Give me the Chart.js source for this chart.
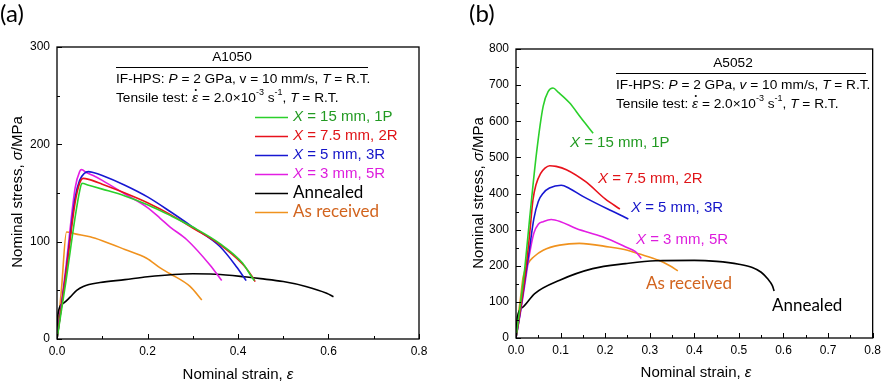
<!DOCTYPE html>
<html><head><meta charset="utf-8">
<script src="https://cdn.jsdelivr.net/npm/chart.js@4.4.1/dist/chart.umd.min.js"></script>
<style>
html,body{margin:0;padding:0;background:#fff;width:886px;height:384px;overflow:hidden}
canvas{position:absolute;top:0}
#ca{left:0}#cb{left:443px}
</style></head>
<body>
<canvas id="ca" width="443" height="384"></canvas>
<canvas id="cb" width="443" height="384"></canvas>
<script>
// ---------- Panel (a): A1050 ----------
const A_green_x = [0, 0.02, 0.04, 0.05, 0.055, 0.07, 0.1, 0.15, 0.2, 0.25, 0.3, 0.36, 0.41, 0.43, 0.436];
const A_green_y = [0, 60, 125, 152, 160, 158, 154, 147, 138, 127, 115, 98, 78, 64, 60];
const A_red_x = [0, 0.02, 0.04, 0.05, 0.058, 0.07, 0.1, 0.15, 0.2, 0.25, 0.3, 0.36, 0.41, 0.43, 0.438];
const A_red_y = [0, 68, 140, 160, 165, 164, 159, 150, 140, 128, 114, 97, 77, 65, 59];
const A_blue_x = [0, 0.02, 0.04, 0.05, 0.06, 0.069, 0.08, 0.1, 0.15, 0.2, 0.25, 0.3, 0.36, 0.397, 0.418];
const A_blue_y = [0, 70, 145, 163, 170, 172, 171, 168, 158, 146, 131, 115, 95, 74, 60];
const A_mag_x = [0, 0.02, 0.04, 0.05, 0.0545, 0.065, 0.08, 0.1, 0.15, 0.2, 0.228, 0.25, 0.287, 0.338, 0.364];
const A_mag_y = [0, 75, 155, 172, 174, 171, 168, 163, 149, 135, 124, 115, 102, 76, 60];
const A_ann_x = [0, 0.002, 0.014, 0.029, 0.0435, 0.058, 0.095, 0.15, 0.2, 0.3, 0.35, 0.412, 0.45, 0.5, 0.55, 0.596, 0.611];
const A_ann_y = [0, 25, 36.7, 43, 50, 54, 58, 61, 64, 67, 66.5, 64, 62, 59, 54, 47, 43.5];
const A_rec_x = [0, 0.01, 0.021, 0.04, 0.073, 0.1, 0.15, 0.198, 0.228, 0.25, 0.294, 0.32];
const A_rec_y = [0, 52, 110, 108, 105, 101, 92, 83, 73, 67, 54, 40];

// ---------- Panel (b): A5052 ----------
const B_green_x = [0, 0.01, 0.02, 0.031, 0.046, 0.061, 0.072, 0.083, 0.095, 0.12, 0.146, 0.173];
const B_green_y = [0, 95, 197, 336, 512, 642, 682, 692, 680, 651, 609, 567];
const B_red_x = [0, 0.01, 0.02, 0.03, 0.038, 0.045, 0.055, 0.065, 0.0756, 0.09, 0.113, 0.157, 0.2, 0.233];
const B_red_y = [0, 80, 170, 280, 382, 425, 455, 470, 477, 475, 466, 432, 385, 357];
const B_blue_x = [0, 0.01, 0.02, 0.03, 0.04, 0.05, 0.061, 0.075, 0.1015, 0.12, 0.15, 0.209, 0.235, 0.252];
const B_blue_y = [0, 75, 160, 245, 330, 378, 401, 415, 423, 414, 392, 355, 340, 329];
const B_mag_x = [0, 0.01, 0.02, 0.03, 0.04, 0.05, 0.061, 0.079, 0.1, 0.135, 0.194, 0.246, 0.268, 0.281];
const B_mag_y = [0, 70, 150, 230, 290, 315, 322, 328, 322, 303, 280, 252, 239, 220];
const B_rec_x = [0, 0.005, 0.01, 0.016, 0.027, 0.04, 0.061, 0.098, 0.142, 0.209, 0.25, 0.2756, 0.32, 0.345, 0.363];
const B_rec_y = [0, 60, 110, 169, 206, 225, 243, 257, 262, 252, 243, 233, 215, 200, 186];
const B_ann_x = [0, 0.003, 0.016, 0.042, 0.098, 0.172, 0.246, 0.313, 0.4, 0.45, 0.5, 0.53, 0.55, 0.565, 0.575, 0.579];
const B_ann_y = [0, 58, 86, 123, 160, 192, 206, 214, 215, 212, 204, 195, 182, 163, 145, 130];

const LABELS = ['X = 15 mm, 1P', 'X = 7.5 mm, 2R', 'X = 5 mm, 3R', 'X = 3 mm, 5R', 'Annealed', 'As received'];

const LINE_COL = ['#2bd02b', '#e8121c', '#1717d2', '#e31ee3', '#000000', '#f0921e'];
const TEXT_COL = ['#229a22', '#e01418', '#1515c8', '#dd1ddd', '#000000', '#d2641e'];
const SANS = '"Liberation Sans", Arial, sans-serif';
const CAL = 'Lato, "Open Sans", sans-serif';

function pts(xs, ys) { return xs.map((v, i) => ({x: v, y: ys[i]})); }

function drawRich(ctx, x, y, segs, size, fam, color, align) {
  const fontOf = s => (s[1] && s[1].includes('i') ? 'italic ' : '') + (s[1] && s[1].includes('s') ? Math.round(size * 0.68) : size) + 'px ' + fam;
  let w = 0;
  for (const s of segs) { ctx.font = fontOf(s); w += ctx.measureText(s[0]).width; }
  let cx = align === 'center' ? x - w / 2 : align === 'right' ? x - w : x;
  ctx.fillStyle = color; ctx.textBaseline = 'middle'; ctx.textAlign = 'left';
  for (const s of segs) {
    ctx.font = fontOf(s);
    const sup = s[1] && s[1].includes('s');
    ctx.fillText(s[0], cx, y + (sup ? -size * 0.38 : 0));
    const sw = ctx.measureText(s[0]).width;
    if (s[1] && s[1].includes('d')) {
      ctx.beginPath(); ctx.arc(cx + sw * 0.62, y - size * 0.58, size * 0.075, 0, 2 * Math.PI); ctx.fill();
    }
    cx += sw;
  }
}

function frameAndTicks(chart) {
  const {ctx, chartArea: a, scales} = chart;
  ctx.save();
  ctx.strokeStyle = '#000'; ctx.lineWidth = 1.3;
  ctx.strokeRect(a.left, a.top, a.right - a.left, a.bottom - a.top);
  ctx.lineWidth = 1;
  const xs = scales.x, ys = scales.y;
  const xv = xs.ticks.map(t => t.value), yv = ys.ticks.map(t => t.value);
  const mids = v => v.slice(1).map((t, i) => (t + v[i]) / 2);
  ctx.beginPath();
  xv.forEach(v => { const p = Math.round(xs.getPixelForValue(v)) + 0.5; ctx.moveTo(p, a.bottom); ctx.lineTo(p, a.bottom - 5); });
  mids(xv).forEach(v => { const p = Math.round(xs.getPixelForValue(v)) + 0.5; ctx.moveTo(p, a.bottom); ctx.lineTo(p, a.bottom - 3); });
  yv.forEach(v => { const p = Math.round(ys.getPixelForValue(v)) + 0.5; ctx.moveTo(a.left, p); ctx.lineTo(a.left + 5, p); });
  mids(yv).forEach(v => { const p = Math.round(ys.getPixelForValue(v)) + 0.5; ctx.moveTo(a.left, p); ctx.lineTo(a.left + 3, p); });
  ctx.stroke();
  ctx.restore();
}

function header(ctx, cx, lx, rx, yTop, name, vItalic) {
  const fs = 13.7;
  drawRich(ctx, cx, yTop, [[name]], fs, SANS, '#000', 'center');
  ctx.strokeStyle = '#000'; ctx.lineWidth = 1;
  ctx.beginPath(); ctx.moveTo(lx, yTop + 10.5); ctx.lineTo(rx, yTop + 10.5); ctx.stroke();
  drawRich(ctx, lx, yTop + 22, [['IF-HPS: '], ['P', 'i'], [' = 2 GPa, '], ['v', vItalic ? 'i' : ''], [' = 10 mm/s, '], ['T', 'i'], [' = R.T.']], fs, SANS, '#000', 'left');
  drawRich(ctx, lx, yTop + 41, [['Tensile test: '], ['ε', 'id'], [' = 2.0×10'], ['-3', 's'], [' s'], ['-1', 's'], [', '], ['T', 'i'], [' = R.T.']], fs, SANS, '#000', 'left');
}

function axisTitles(ctx, xc, xy, yx, yc) {
  drawRich(ctx, xc, xy, [['Nominal strain, '], ['ε', 'i']], 15, SANS, '#000', 'center');
  ctx.save(); ctx.translate(yx, yc); ctx.rotate(-Math.PI / 2);
  drawRich(ctx, 0, 0, [['Nominal stress, '], ['σ', 'i'], ['/MPa']], 15, SANS, '#000', 'center');
  ctx.restore();
}

function labelSegs(t) {
  return t.startsWith('X') ? [['X', 'i'], [t.slice(1)]] : [[t]];
}

function makeDatasets(sets) {
  return sets.map((s, i) => ({
    label: LABELS[i], data: pts(s[0], s[1]), borderColor: LINE_COL[i], backgroundColor: LINE_COL[i],
    borderWidth: 1.6, pointRadius: 0, showLine: true, fill: false, cubicInterpolationMode: 'monotone'
  }));
}

function baseOptions(yMax, yStep, xStep, yW, xH, pad) {
  return {
    responsive: false, animation: false, events: [],
    layout: {padding: pad},
    plugins: {legend: {display: false}, tooltip: {enabled: false}},
    scales: {
      x: {type: 'linear', min: 0, max: 0.8,
          ticks: {stepSize: xStep, padding: 5, color: '#000', font: {family: SANS, size: 12}, maxRotation: 0,
                  callback: v => v.toFixed(1)},
          grid: {display: false, drawTicks: false}, border: {display: false},
          afterFit: s => { s.height = xH; }},
      y: {type: 'linear', min: 0, max: yMax,
          ticks: {stepSize: yStep, padding: 7, color: '#000', font: {family: SANS, size: 12}},
          grid: {display: false, drawTicks: false}, border: {display: false},
          afterFit: s => { s.width = yW; }}
    }
  };
}

// Panel (a)
new Chart(document.getElementById('ca'), {
  type: 'scatter',
  data: {datasets: makeDatasets([[A_green_x, A_green_y], [A_red_x, A_red_y], [A_blue_x, A_blue_y], [A_mag_x, A_mag_y], [A_ann_x, A_ann_y], [A_rec_x, A_rec_y]])},
  options: baseOptions(300, 100, 0.2, 57, 45, {top: 47, right: 24, left: 0, bottom: 0}),
  plugins: [{
    id: 'decoA',
    afterDraw(chart) {
      const ctx = chart.ctx;
      frameAndTicks(chart);
      ctx.save();
      drawRich(ctx, 0, 14, [['(a)']], 24, CAL, '#000', 'left');
      header(ctx, 232, 116, 368, 57, 'A1050', false);
      chart.data.datasets.forEach((d, i) => {
        const y = 117 + i * 19;
        ctx.strokeStyle = d.borderColor; ctx.lineWidth = 1.5;
        ctx.beginPath(); ctx.moveTo(255, y + 0.5); ctx.lineTo(288, y + 0.5); ctx.stroke();
        if (i < 4) drawRich(ctx, 293, y, labelSegs(d.label), 15, SANS, TEXT_COL[i], 'left');
        else drawRich(ctx, 293, y, labelSegs(d.label), 17, CAL, TEXT_COL[i], 'left');
      });
      axisTitles(ctx, 238, 375, 18, 192);
      ctx.restore();
    }
  }]
});

// Panel (b)
new Chart(document.getElementById('cb'), {
  type: 'scatter',
  data: {datasets: makeDatasets([[B_green_x, B_green_y], [B_red_x, B_red_y], [B_blue_x, B_blue_y], [B_mag_x, B_mag_y], [B_ann_x, B_ann_y], [B_rec_x, B_rec_y]])},
  options: baseOptions(800, 100, 0.1, 73, 46, {top: 49, right: 10, left: 0, bottom: 0}),
  plugins: [{
    id: 'decoB',
    afterDraw(chart) {
      const ctx = chart.ctx;
      frameAndTicks(chart);
      ctx.save();
      drawRich(ctx, 26, 14, [['(b)']], 24, CAL, '#000', 'left');
      header(ctx, 290, 173, 423, 63, 'A5052', true);
      const pos = [[127, 143], [155, 179], [188, 208], [193, 240], [329, 306], [203, 284]];
      chart.data.datasets.forEach((d, i) => {
        const [x, y] = pos[i];
        if (i < 4) drawRich(ctx, x, y, labelSegs(d.label), 15, SANS, TEXT_COL[i], 'left');
        else drawRich(ctx, x, y, labelSegs(d.label), 17, CAL, TEXT_COL[i], 'left');
      });
      axisTitles(ctx, 253, 373, 36, 193);
      ctx.restore();
    }
  }]
});
</script>
</body></html>
